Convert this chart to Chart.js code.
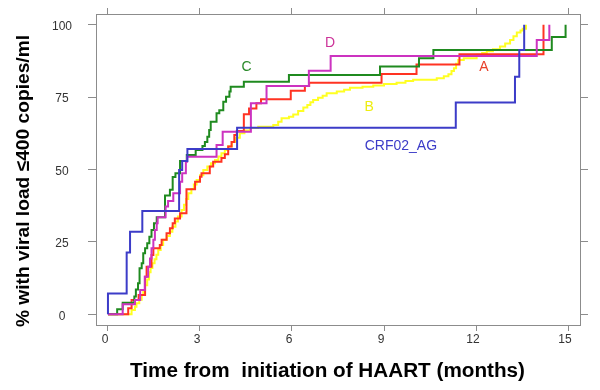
<!DOCTYPE html>
<html><head><meta charset="utf-8">
<script src="https://cdn.jsdelivr.net/npm/chart.js@4/dist/chart.umd.min.js"></script>
<style>html,body{margin:0;padding:0;background:#fff}#wrap{width:600px;height:390px}</style>
</head><body><div id="wrap"><canvas id="c" width="600" height="390"></canvas></div>
<script>
// ---- data (months, % with viral load <=400 copies/ml) ----
const xTickValues = [0, 3, 6, 9, 12, 15];
const yTickValues = [0, 25, 50, 75, 100];

const timeCRF = [0, 0, 0.61, 0.72, 1.12, 2.32, 2.42, 2.59, 4.21, 11.34, 13.27, 13.41, 13.57];
const pctCRF  = [0, 7.2, 21.3, 28.5, 35.7, 49.8, 52.9, 57.1, 64.4, 73.1, 82.0, 91.3, 100];

const timeD = [0, 0.48, 0.88, 1.05, 1.20, 1.31, 1.37, 1.42, 1.48, 1.53, 1.59, 1.62, 1.88, 1.96, 2.13, 2.35, 2.42, 2.54, 2.58, 3.54, 3.74, 4.66, 5.17, 6.55, 7.26, 13.98, 14.39];
const pctD  = [0, 3.5, 4.9, 8.4, 13.0, 16.4, 19.3, 22.8, 25.7, 29.1, 31.4, 33.5, 37.2, 39.1, 41.8, 45.8, 48.7, 52.7, 54.4, 58.5, 63.0, 72.9, 78.8, 84.1, 89.2, 94.7, 100];

const timeC = [0, 0.30, 0.48, 0.86, 0.91, 0.98, 1.03, 1.10, 1.15, 1.21, 1.28, 1.35, 1.42, 1.50, 1.59, 1.86, 2.02, 2.11, 2.20, 2.35, 2.57, 2.86, 3.08, 3.16, 3.24, 3.30, 3.35, 3.54, 3.63, 3.76, 3.85, 3.96, 4.00, 4.43, 5.90, 8.87, 10.14, 10.61, 14.47, 14.92];
const pctC  = [0, 1.7, 4.0, 6.1, 8.6, 10.7, 15.9, 17.6, 21.1, 22.8, 24.5, 26.8, 29.1, 31.4, 33.5, 41.0, 43.0, 47.4, 48.7, 52.9, 55.0, 56.7, 58.1, 59.5, 61.3, 63.6, 66.5, 69.4, 70.5, 73.4, 75.1, 76.9, 78.6, 80.3, 82.6, 85.6, 88.4, 91.3, 95.8, 100];

const timeA = [0, 0.66, 0.77, 1.00, 1.21, 1.26, 1.42, 1.48, 1.69, 1.75, 1.91, 2.02, 2.11, 2.18, 2.35, 2.56, 2.84, 3.00, 3.05, 3.32, 3.43, 3.70, 3.81, 3.92, 4.03, 4.12, 4.20, 4.43, 4.60, 4.84, 4.99, 5.96, 6.42, 6.56, 8.92, 10.06, 11.46, 14.20];
const pctA  = [0, 2.1, 4.9, 6.7, 13.0, 16.4, 20.5, 22.8, 23.9, 25.7, 28.0, 29.7, 31.4, 33.1, 34.9, 43.2, 45.8, 47.5, 48.7, 51.0, 52.7, 54.0, 55.3, 57.9, 59.5, 61.9, 63.3, 69.1, 71.1, 72.9, 74.3, 77.2, 78.8, 80.0, 83.0, 86.3, 89.8, 100];

const timeB = [0, 0.77, 0.88, 0.93, 1.02, 1.10, 1.15, 1.21, 1.28, 1.34, 1.39, 1.45, 1.52, 1.58, 1.64, 1.72, 1.80, 1.92, 2.02, 2.10, 2.20, 2.28, 2.40, 2.48, 2.55, 2.62, 2.72, 2.80, 2.89, 3.00, 3.11, 3.24, 3.36, 3.49, 3.60, 3.70, 3.81, 3.92, 4.04, 4.16, 4.30, 4.45, 4.63, 4.90, 5.39, 5.55, 5.66, 5.90, 6.04, 6.20, 6.37, 6.50, 6.60, 6.69, 6.85, 7.00, 7.13, 7.46, 7.70, 7.89, 8.30, 8.65, 9.00, 9.41, 9.70, 9.95, 10.72, 10.95, 11.10, 11.20, 11.28, 11.35, 11.42, 11.60, 12.02, 12.20, 12.35, 12.55, 12.78, 12.95, 13.11, 13.22, 13.33, 13.45, 13.52, 13.63];
const pctB  = [0, 1.5, 2.6, 3.8, 5.0, 6.7, 8.4, 10.0, 12.0, 14.5, 16.0, 17.6, 19.0, 20.6, 22.2, 23.9, 25.7, 27.0, 28.5, 30.2, 32.0, 33.8, 36.0, 37.8, 39.8, 41.8, 43.3, 44.8, 46.4, 48.0, 49.8, 51.0, 52.2, 53.3, 54.5, 55.6, 56.7, 58.0, 59.5, 61.0, 62.5, 63.5, 64.3, 64.8, 65.4, 66.5, 67.7, 68.2, 69.0, 70.2, 71.4, 72.3, 73.2, 74.0, 74.8, 75.5, 76.3, 76.9, 77.5, 78.2, 78.6, 79.0, 79.5, 80.0, 80.6, 81.0, 81.5, 82.2, 82.9, 84.0, 85.0, 86.5, 87.8, 88.4, 89.6, 90.2, 90.8, 91.5, 92.5, 93.5, 94.7, 96.0, 97.3, 98.0, 98.6, 100];

// ---- styling / layout ----
const colCRF = '#3C3CC8', colD = '#CC33C0', colC = '#1F8A1F', colA = '#FF3322', colB = '#FFFF22';
const FONT = '"Liberation Sans", Arial, sans-serif';
const frameColor = '#8c8c8c';

function pts(t, v) { return t.map((x, i) => ({ x: x, y: v[i] })); }
function ds(label, t, v, color) {
  return { label, data: pts(t, v), borderColor: color, backgroundColor: color,
    borderWidth: 2, pointRadius: 0, stepped: true, fill: false, tension: 0 };
}

const curveLabels = [
  { text: 'C', x: 4.52, y: 85.5, color: '#2A8A2A' },
  { text: 'D', x: 7.24, y: 93.8, color: '#CC3399' },
  { text: 'A', x: 12.26, y: 85.2, color: '#E8402A' },
  { text: 'B', x: 8.52, y: 71.7, color: '#EEEE10' },
  { text: 'CRF02_AG', x: 9.55, y: 57.9, color: '#3C3CC8' }
];

const textPlugin = {
  id: 'texts',
  afterDraw(chart) {
    const ctx = chart.ctx, xs = chart.scales.x, ys = chart.scales.y;
    ctx.save();
    ctx.textAlign = 'center'; ctx.textBaseline = 'middle';
    ctx.font = '14px ' + FONT;
    curveLabels.forEach(l => {
      ctx.fillStyle = l.color;
      ctx.fillText(l.text, xs.getPixelForValue(l.x), ys.getPixelForValue(l.y));
    });
    ctx.fillStyle = '#000';
    ctx.textBaseline = 'alphabetic';
    ctx.font = 'bold 20.7px ' + FONT;
    ctx.fillText('Time from  initiation of HAART (months)', 327.5, 377);
    ctx.font = 'bold 19.2px ' + FONT;
    ctx.translate(29, 181);
    ctx.rotate(-Math.PI / 2);
    ctx.fillText('% with viral load \u2264400 copies/ml', 0, 0);
    ctx.restore();
  }
};

function axis(pos, min, max, tickVals, showLabels, tickLen, size, pad, lblOff) {
  const horiz = pos === 'top' || pos === 'bottom';
  return {
    type: 'linear', position: pos, min, max,
    afterBuildTicks: s => { s.ticks = tickVals.map(v => ({ value: v })); },
    afterFit: s => {
      if (horiz) s.height = size; else s.width = size;
      s.paddingTop = 0; s.paddingBottom = 0; s.paddingLeft = 0; s.paddingRight = 0;
    },
    grid: { drawOnChartArea: false, drawTicks: true, tickLength: tickLen, color: frameColor, lineWidth: 1 },
    border: { display: true, color: frameColor, width: 1 },
    ticks: { display: showLabels, color: '#333', padding: pad, labelOffset: lblOff || 0,
      crossAlign: horiz ? 'near' : 'center',
      font: { family: FONT, size: 12 }, maxRotation: 0, autoSkip: false },
    title: { display: false }
  };
}

new Chart(document.getElementById('c'), {
  type: 'line',
  data: { datasets: [
    ds('CRF02_AG', timeCRF, pctCRF, colCRF),
    ds('D', timeD, pctD, colD),
    ds('C', timeC, pctC, colC),
    ds('A', timeA, pctA, colA),
    ds('B', timeB, pctB, colB)
  ] },
  options: {
    responsive: false, animation: false, devicePixelRatio: 1,
    layout: { padding: 0 },
    plugins: { legend: { display: false }, tooltip: { enabled: false } },
    scales: {
      x: axis('bottom', -0.39, 15.39, xTickValues, true, 6, 65, 1, -3),
      x2: axis('top', -0.39, 15.39, xTickValues, false, 6, 14, 0),
      y: axis('left', -3.7, 103.7, yTickValues, true, 8, 96, 16, 2),
      y2: axis('right', -3.7, 103.7, yTickValues, false, 8, 20, 0)
    }
  },
  plugins: [textPlugin]
});
</script></body></html>
